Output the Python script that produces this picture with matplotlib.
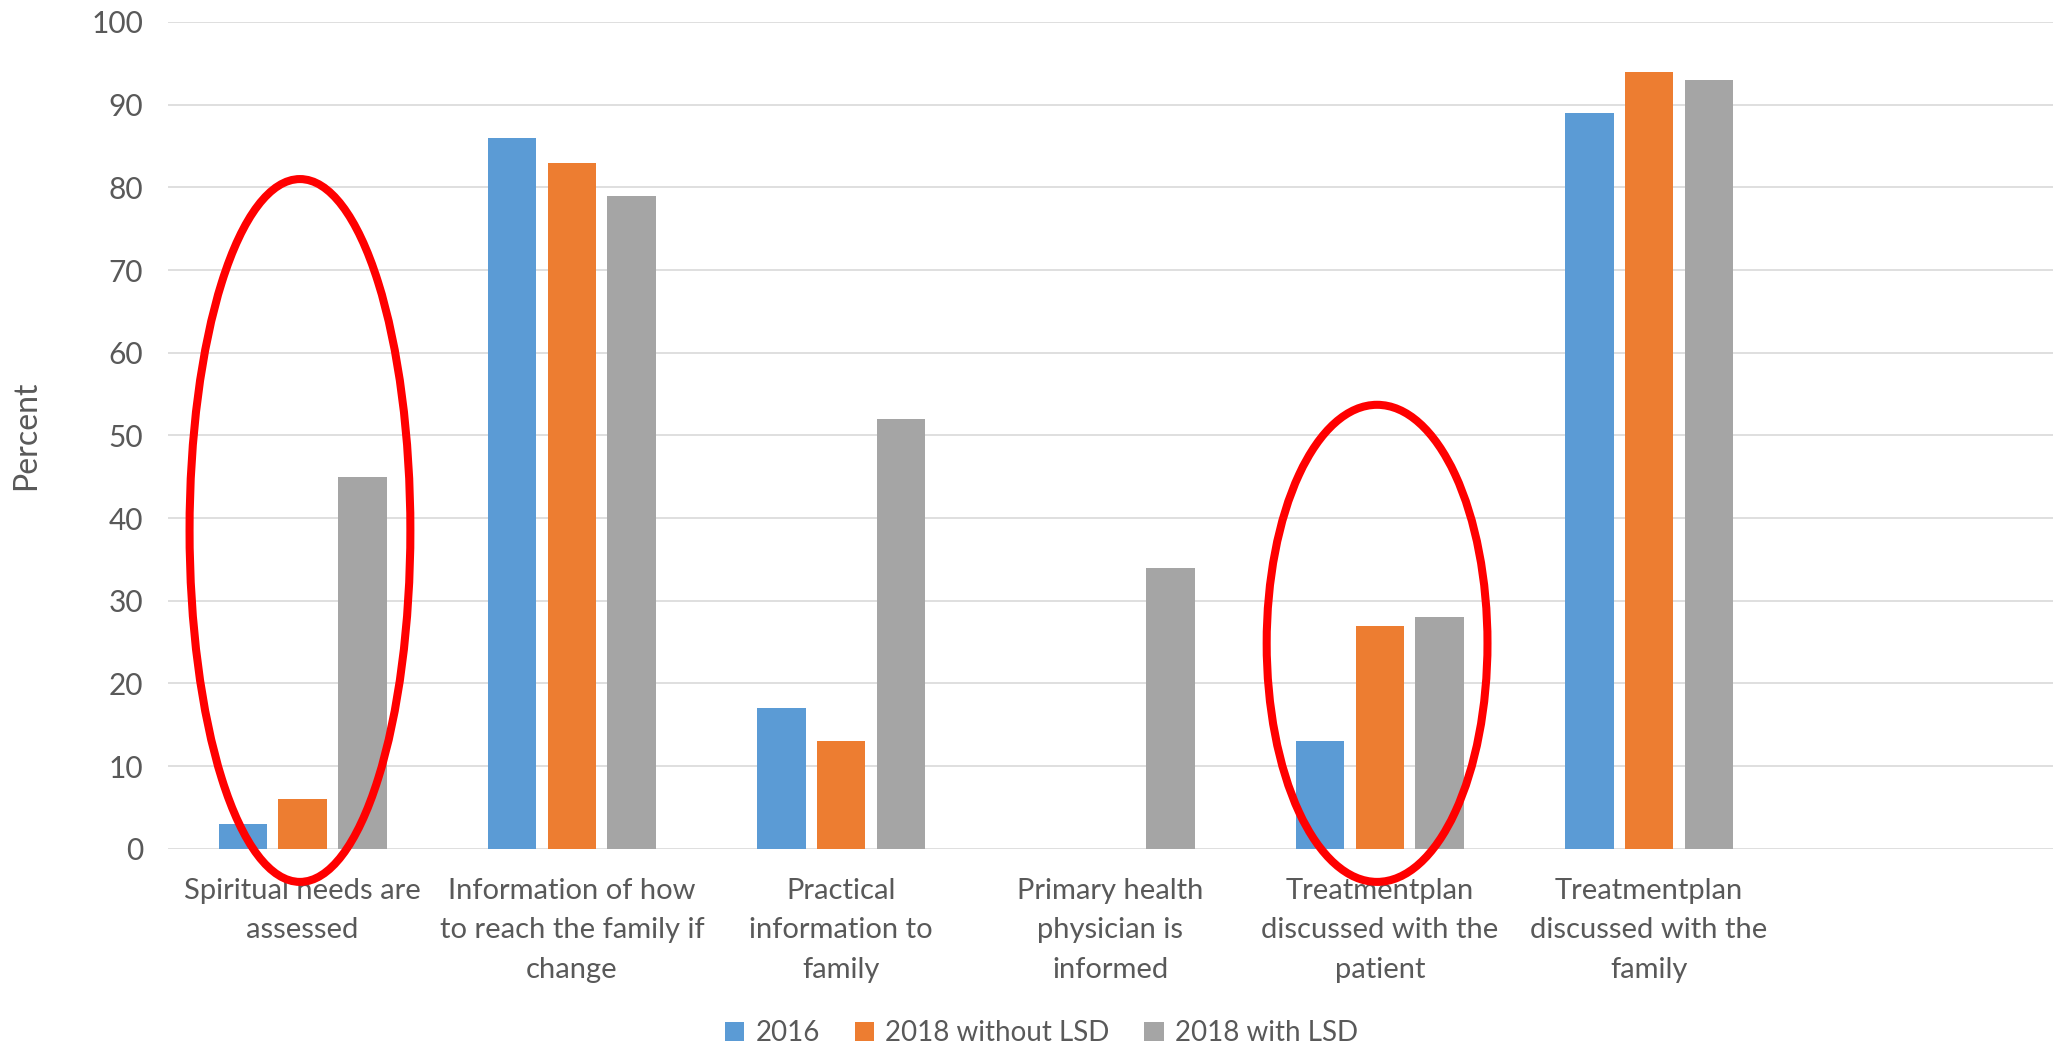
import numpy as np
import matplotlib
matplotlib.use('Agg')
import matplotlib.pyplot as plt
from matplotlib.patches import Ellipse

plt.rcParams['font.family'] = ['Lato', 'DejaVu Sans']

categories = ['Spiritual needs are\nassessed',
              'Information of how\nto reach the family if\nchange',
              'Practical\ninformation to\nfamily',
              'Primary health\nphysician is\ninformed',
              'Treatmentplan\ndiscussed with the\npatient',
              'Treatmentplan\ndiscussed with the\nfamily',
              '']
series_names = ['2016', '2018 without LSD', '2018 with LSD']
v2016 = [3, 86, 17, 0, 13, 89]
v2018_without = [6, 83, 13, 0, 27, 94]
v2018_with = [45, 79, 52, 34, 28, 93]
colors = ['#5b9bd5', '#ed7d31', '#a5a5a5']

# highlighted groups: (category index, y bottom, y top)
highlights = [(0, -4, 81), (4, -4, 53.7)]

txt = '#595959'
fig = plt.figure(figsize=(20.54, 10.46), dpi=100)
ax = fig.add_axes([0.0818, 0.1885, 0.9177, 0.7905])

x = np.arange(len(v2016))
bw = 0.18
off = 0.222
for i, (vals, c, name) in enumerate(zip([v2016, v2018_without, v2018_with], colors, series_names)):
    ax.bar(x + (i - 1) * off, vals, bw, color=c, label=name, zorder=3)

ax.set_xlim(-0.5, len(categories) - 0.5)
ax.set_ylim(0, 100)
ax.set_yticks(range(0, 101, 10))
ax.set_xticks(range(len(categories)))
ax.set_xticklabels(categories, linespacing=1.64, fontsize=21)
ax.tick_params(axis='both', length=0, labelcolor=txt)
ax.tick_params(axis='y', pad=18, labelsize=21.5)
ax.tick_params(axis='x', pad=21)
ax.grid(axis='y', color='#d9d9d9', linewidth=1.2, zorder=0)
for s in ax.spines.values():
    s.set_visible(False)
ax.set_ylabel('Percent', fontsize=23, color=txt, labelpad=36)

for idx, lo, hi in highlights:
    e = Ellipse((idx - 0.01, (lo + hi) / 2), 0.82, hi - lo, fill=False,
                edgecolor='#ff0000', linewidth=5.8, zorder=5, clip_on=False)
    ax.add_patch(e)

fig.legend(loc='center', bbox_to_anchor=(0.507, 0.012), ncol=3, frameon=False,
           fontsize=20, labelcolor=txt, handlelength=0.7, handleheight=0.7,
           columnspacing=1.25, handletextpad=0.4)

fig.savefig('out.png', dpi=100)
